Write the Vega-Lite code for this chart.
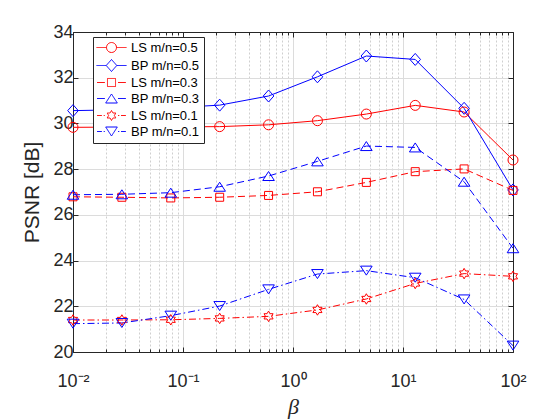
{
  "$schema": "https://vega.github.io/schema/vega-lite/v6.json",
  "autosize": "none",
  "width": 440,
  "height": 320,
  "padding": {"left": 73, "top": 32, "right": 47, "bottom": 68},
  "background": "white",
  "config": {
    "view": {"stroke": null},
    "font": "Liberation Sans"
  },
  "data": {
    "values": [
      {"beta": 0.01, "psnr": 29.83, "series": "LS m/n=0.5"},
      {"beta": 0.027826, "psnr": 29.84, "series": "LS m/n=0.5"},
      {"beta": 0.077426, "psnr": 29.85, "series": "LS m/n=0.5"},
      {"beta": 0.21544, "psnr": 29.86, "series": "LS m/n=0.5"},
      {"beta": 0.59948, "psnr": 29.94, "series": "LS m/n=0.5"},
      {"beta": 1.6681, "psnr": 30.12, "series": "LS m/n=0.5"},
      {"beta": 4.6416, "psnr": 30.41, "series": "LS m/n=0.5"},
      {"beta": 12.915, "psnr": 30.79, "series": "LS m/n=0.5"},
      {"beta": 35.938, "psnr": 30.5, "series": "LS m/n=0.5"},
      {"beta": 100, "psnr": 28.4, "series": "LS m/n=0.5"},

      {"beta": 0.01, "psnr": 30.56, "series": "BP m/n=0.5"},
      {"beta": 0.027826, "psnr": 30.6, "series": "BP m/n=0.5"},
      {"beta": 0.077426, "psnr": 30.68, "series": "BP m/n=0.5"},
      {"beta": 0.21544, "psnr": 30.8, "series": "BP m/n=0.5"},
      {"beta": 0.59948, "psnr": 31.2, "series": "BP m/n=0.5"},
      {"beta": 1.6681, "psnr": 32.04, "series": "BP m/n=0.5"},
      {"beta": 4.6416, "psnr": 32.95, "series": "BP m/n=0.5"},
      {"beta": 12.915, "psnr": 32.8, "series": "BP m/n=0.5"},
      {"beta": 35.938, "psnr": 30.66, "series": "BP m/n=0.5"},
      {"beta": 100, "psnr": 27.09, "series": "BP m/n=0.5"},

      {"beta": 0.01, "psnr": 26.79, "series": "LS m/n=0.3"},
      {"beta": 0.027826, "psnr": 26.77, "series": "LS m/n=0.3"},
      {"beta": 0.077426, "psnr": 26.74, "series": "LS m/n=0.3"},
      {"beta": 0.21544, "psnr": 26.77, "series": "LS m/n=0.3"},
      {"beta": 0.59948, "psnr": 26.85, "series": "LS m/n=0.3"},
      {"beta": 1.6681, "psnr": 27.01, "series": "LS m/n=0.3"},
      {"beta": 4.6416, "psnr": 27.42, "series": "LS m/n=0.3"},
      {"beta": 12.915, "psnr": 27.89, "series": "LS m/n=0.3"},
      {"beta": 35.938, "psnr": 28.01, "series": "LS m/n=0.3"},
      {"beta": 100, "psnr": 27.07, "series": "LS m/n=0.3"},

      {"beta": 0.01, "psnr": 26.88, "series": "BP m/n=0.3"},
      {"beta": 0.027826, "psnr": 26.9, "series": "BP m/n=0.3"},
      {"beta": 0.077426, "psnr": 26.97, "series": "BP m/n=0.3"},
      {"beta": 0.21544, "psnr": 27.23, "series": "BP m/n=0.3"},
      {"beta": 0.59948, "psnr": 27.7, "series": "BP m/n=0.3"},
      {"beta": 1.6681, "psnr": 28.34, "series": "BP m/n=0.3"},
      {"beta": 4.6416, "psnr": 29.01, "series": "BP m/n=0.3"},
      {"beta": 12.915, "psnr": 28.95, "series": "BP m/n=0.3"},
      {"beta": 35.938, "psnr": 27.45, "series": "BP m/n=0.3"},
      {"beta": 100, "psnr": 24.54, "series": "BP m/n=0.3"},

      {"beta": 0.01, "psnr": 21.4, "series": "LS m/n=0.1"},
      {"beta": 0.027826, "psnr": 21.4, "series": "LS m/n=0.1"},
      {"beta": 0.077426, "psnr": 21.41, "series": "LS m/n=0.1"},
      {"beta": 0.21544, "psnr": 21.47, "series": "LS m/n=0.1"},
      {"beta": 0.59948, "psnr": 21.56, "series": "LS m/n=0.1"},
      {"beta": 1.6681, "psnr": 21.84, "series": "LS m/n=0.1"},
      {"beta": 4.6416, "psnr": 22.32, "series": "LS m/n=0.1"},
      {"beta": 12.915, "psnr": 23.0, "series": "LS m/n=0.1"},
      {"beta": 35.938, "psnr": 23.43, "series": "LS m/n=0.1"},
      {"beta": 100, "psnr": 23.31, "series": "LS m/n=0.1"},

      {"beta": 0.01, "psnr": 21.24, "series": "BP m/n=0.1"},
      {"beta": 0.027826, "psnr": 21.27, "series": "BP m/n=0.1"},
      {"beta": 0.077426, "psnr": 21.59, "series": "BP m/n=0.1"},
      {"beta": 0.21544, "psnr": 22.01, "series": "BP m/n=0.1"},
      {"beta": 0.59948, "psnr": 22.74, "series": "BP m/n=0.1"},
      {"beta": 1.6681, "psnr": 23.41, "series": "BP m/n=0.1"},
      {"beta": 4.6416, "psnr": 23.56, "series": "BP m/n=0.1"},
      {"beta": 12.915, "psnr": 23.25, "series": "BP m/n=0.1"},
      {"beta": 35.938, "psnr": 22.3, "series": "BP m/n=0.1"},
      {"beta": 100, "psnr": 20.28, "series": "BP m/n=0.1"}
    ]
  },
  "encoding": {
    "x": {"field": "beta", "type": "quantitative", "scale": {"type": "log", "domain": [0.01, 100], "nice": false}, "axis": null},
    "y": {"field": "psnr", "type": "quantitative", "scale": {"domain": [20, 34], "nice": false, "zero": false}, "axis": null},
    "color": {
      "field": "series", "type": "nominal",
      "scale": {
        "domain": ["LS m/n=0.5", "BP m/n=0.5", "LS m/n=0.3", "BP m/n=0.3", "LS m/n=0.1", "BP m/n=0.1"],
        "range": ["#ff0000", "#0000ff", "#ff0000", "#0000ff", "#ff0000", "#0000ff"]
      },
      "legend": null
    }
  },
  "resolve": {"axis": {"x": "independent", "y": "independent"}},
  "layer": [
    {
      "transform": [{"filter": {"field": "series", "oneOf": ["LS m/n=0.5", "BP m/n=0.5"]}}],
      "mark": {"type": "line", "strokeWidth": 1, "clip": false},
      "encoding": {
        "x": {
          "field": "beta", "type": "quantitative",
          "scale": {"type": "log", "domain": [0.01, 100], "nice": false},
          "axis": {
            "orient": "bottom",
            "values": [0.01, 0.02, 0.03, 0.04, 0.05, 0.06, 0.07, 0.08, 0.09,
                       0.1, 0.2, 0.3, 0.4, 0.5, 0.6, 0.7, 0.8, 0.9,
                       1, 2, 3, 4, 5, 6, 7, 8, 9,
                       10, 20, 30, 40, 50, 60, 70, 80, 90, 100],
            "labelExpr": "datum.value == 0.01 ? '10⁻²' : datum.value == 0.1 ? '10⁻¹' : datum.value == 1 ? '10⁰' : datum.value == 10 ? '10¹' : datum.value == 100 ? '10²' : ''",
            "labelFont": "Liberation Sans",
            "labelFontSize": 18,
            "labelColor": "#262626",
            "labelPadding": 25,
            "labelOverlap": false,
            "labelBound": false,
            "labelFlush": false,
            "grid": true,
            "gridColor": {"condition": {"test": "abs(log(datum.value)/LN10 - round(log(datum.value)/LN10)) < 0.000001", "value": "#dcdcdc"}, "value": "#cfcfcf"},
            "gridDash": {"condition": {"test": "abs(log(datum.value)/LN10 - round(log(datum.value)/LN10)) < 0.000001", "value": []}, "value": [2, 2]},
            "tickSize": {"condition": {"test": "abs(log(datum.value)/LN10 - round(log(datum.value)/LN10)) < 0.000001", "value": -5}, "value": -3},
            "tickColor": "#262626",
            "domainColor": "#262626",
            "title": "β",
            "titleFont": "Liberation Serif",
            "titleFontStyle": "italic",
            "titleFontWeight": "normal",
            "titleFontSize": 22,
            "titleColor": "#262626",
            "titlePadding": 4
          }
        },
        "y": {
          "field": "psnr", "type": "quantitative",
          "scale": {"domain": [20, 34], "nice": false, "zero": false},
          "axis": {
            "orient": "left",
            "values": [20, 22, 24, 26, 28, 30, 32, 34],
            "labelFont": "Liberation Sans",
            "labelFontSize": 18,
            "labelColor": "#262626",
            "labelPadding": 5,
            "labelBound": false,
            "labelFlush": false,
            "grid": true,
            "gridColor": "#dcdcdc",
            "tickSize": -5,
            "tickColor": "#262626",
            "domainColor": "#262626",
            "title": "PSNR [dB]",
            "titleFont": "Liberation Sans",
            "titleFontWeight": "normal",
            "titleFontSize": 21,
            "titleColor": "#262626",
            "titlePadding": 10
          }
        },
        "color": {
          "field": "series", "type": "nominal",
          "scale": {
            "domain": ["LS m/n=0.5", "BP m/n=0.5", "LS m/n=0.3", "BP m/n=0.3", "LS m/n=0.1", "BP m/n=0.1"],
            "range": ["#ff0000", "#0000ff", "#ff0000", "#0000ff", "#ff0000", "#0000ff"]
          },
          "legend": {
            "orient": "none",
            "legendX": 20,
            "legendY": 5,
            "title": null,
            "direction": "vertical",
            "fillColor": "white",
            "strokeColor": "#262626",
            "padding": 4,
            "cornerRadius": 0,
            "symbolSize": 144,
            "symbolOffset": 8,
            "symbolStrokeWidth": 1,
            "symbolFillColor": "transparent",
            "symbolDash": [1, 0],
            "symbolType": {"expr": "datum.value == 'LS m/n=0.5' ? 'M-2.5,0 L-0.83,0 M0.83,0 L2.5,0 M0.83,0 A0.83,0.83 0 1,1 -0.83,0 A0.83,0.83 0 1,1 0.83,0' : datum.value == 'BP m/n=0.5' ? 'M-2.5,0 L-0.88,0 M0.88,0 L2.5,0 M0,-1 L0.88,0 L0,1 L-0.88,0 Z' : datum.value == 'LS m/n=0.3' ? 'M-2.4,0 L-1.1,0 M1.1,0 L2.4,0 M-0.67,-0.67 L0.67,-0.67 L0.67,0.67 L-0.67,0.67 Z' : datum.value == 'BP m/n=0.3' ? 'M-2.4,0 L-1.1,0 M1.1,0 L2.4,0 M0,-0.75 L0.97,0.75 L-0.97,0.75 Z' : datum.value == 'LS m/n=0.1' ? 'M-2.4,0 L-1.6,0 M-1.3,0 L-1.1,0 M1.1,0 L1.3,0 M1.6,0 L2.4,0 M0,-0.83 L0.24,-0.415 L0.72,-0.415 L0.48,0 L0.72,0.415 L0.24,0.415 L0,0.83 L-0.24,0.415 L-0.72,0.415 L-0.48,0 L-0.72,-0.415 L-0.24,-0.415 Z' : 'M-2.4,0 L-1.6,0 M-1.3,0 L-1.1,0 M1.1,0 L1.3,0 M1.6,0 L2.4,0 M0,0.75 L0.97,-0.75 L-0.97,-0.75 Z'"},
            "labelFont": "Liberation Sans",
            "labelFontSize": 13,
            "labelColor": "#000000",
            "labelOffset": 13,
            "rowPadding": 2
          }
        }
      }
    },
    {
      "transform": [{"filter": {"field": "series", "oneOf": ["LS m/n=0.3", "BP m/n=0.3"]}}],
      "mark": {"type": "line", "strokeWidth": 1, "strokeDash": [7, 4], "clip": false}
    },
    {
      "transform": [{"filter": {"field": "series", "oneOf": ["LS m/n=0.1", "BP m/n=0.1"]}}],
      "mark": {"type": "line", "strokeWidth": 1, "strokeDash": [7, 3, 1.5, 3], "clip": false}
    },
    {
      "transform": [{"filter": {"field": "series", "equal": "LS m/n=0.5"}}],
      "mark": {"type": "point", "shape": "circle", "filled": false, "size": 100, "strokeWidth": 1, "opacity": 1, "clip": false},
      "encoding": {
        "x": {
          "field": "beta", "type": "quantitative",
          "scale": {"type": "log", "domain": [0.01, 100], "nice": false},
          "axis": {
            "orient": "top",
            "values": [0.01, 0.02, 0.03, 0.04, 0.05, 0.06, 0.07, 0.08, 0.09,
                       0.1, 0.2, 0.3, 0.4, 0.5, 0.6, 0.7, 0.8, 0.9,
                       1, 2, 3, 4, 5, 6, 7, 8, 9,
                       10, 20, 30, 40, 50, 60, 70, 80, 90, 100],
            "labels": false,
            "grid": false,
            "title": null,
            "tickSize": {"condition": {"test": "abs(log(datum.value)/LN10 - round(log(datum.value)/LN10)) < 0.000001", "value": -5}, "value": -3},
            "tickColor": "#262626",
            "domainColor": "#262626"
          }
        },
        "y": {
          "field": "psnr", "type": "quantitative",
          "scale": {"domain": [20, 34], "nice": false, "zero": false},
          "axis": {
            "orient": "right",
            "values": [20, 22, 24, 26, 28, 30, 32, 34],
            "labels": false,
            "grid": false,
            "title": null,
            "tickSize": -5,
            "tickColor": "#262626",
            "domainColor": "#262626"
          }
        }
      }
    },
    {
      "transform": [{"filter": {"field": "series", "equal": "BP m/n=0.5"}}],
      "mark": {"type": "point", "shape": "M0,-1.2 L1.06,0 L0,1.2 L-1.06,0 Z", "filled": false, "size": 100, "strokeWidth": 1, "opacity": 1, "clip": false}
    },
    {
      "transform": [{"filter": {"field": "series", "equal": "LS m/n=0.3"}}],
      "mark": {"type": "point", "shape": "M-0.8,-0.8 L0.8,-0.8 L0.8,0.8 L-0.8,0.8 Z", "filled": false, "size": 100, "strokeWidth": 1, "opacity": 1, "clip": false}
    },
    {
      "transform": [{"filter": {"field": "series", "equal": "BP m/n=0.3"}}],
      "mark": {"type": "point", "shape": "M0,-0.9 L1.16,0.9 L-1.16,0.9 Z", "filled": false, "size": 100, "strokeWidth": 1, "opacity": 1, "clip": false}
    },
    {
      "transform": [{"filter": {"field": "series", "equal": "LS m/n=0.1"}}],
      "mark": {"type": "point", "shape": "M0,-1.05 L0.303,-0.525 L0.909,-0.525 L0.606,0 L0.909,0.525 L0.303,0.525 L0,1.05 L-0.303,0.525 L-0.909,0.525 L-0.606,0 L-0.909,-0.525 L-0.303,-0.525 Z", "filled": false, "size": 100, "strokeWidth": 1, "opacity": 1, "clip": false}
    },
    {
      "transform": [{"filter": {"field": "series", "equal": "BP m/n=0.1"}}],
      "mark": {"type": "point", "shape": "M0,0.9 L1.16,-0.9 L-1.16,-0.9 Z", "filled": false, "size": 100, "strokeWidth": 1, "opacity": 1, "clip": false}
    }
  ]
}
